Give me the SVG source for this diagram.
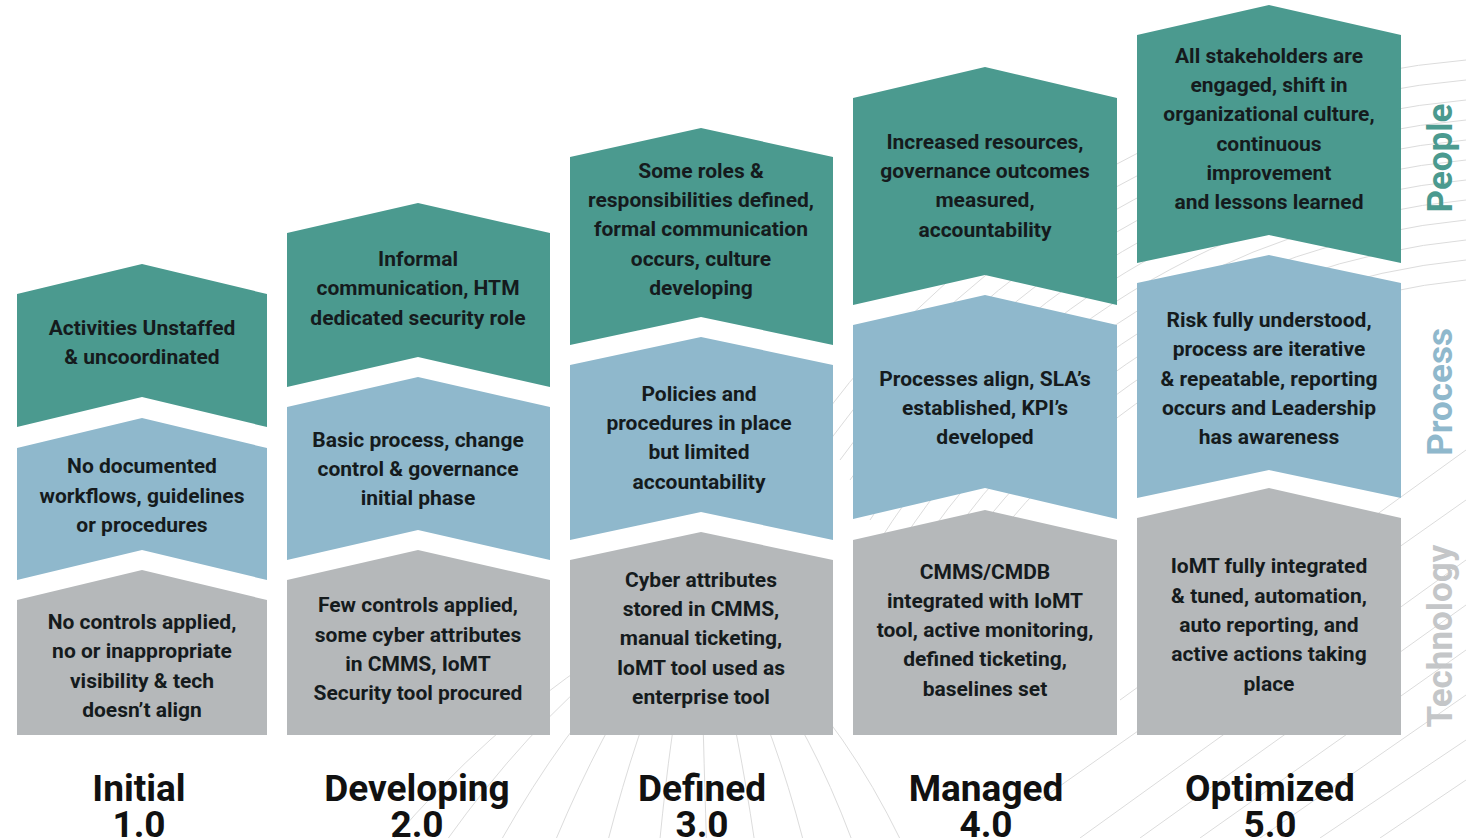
<svg xmlns="http://www.w3.org/2000/svg" width="1466" height="838" viewBox="0 0 1466 838">
  <style>
    .bg { fill: none; stroke: #dcdcdc; stroke-width: 1; }
    .people { fill: #4b9a8f; }
    .process { fill: #8fb8cc; }
    .tech { fill: #b5b8ba; }
    .lbl { font-family: Roboto, "Liberation Sans", sans-serif; font-weight: 700; font-size: 21px; fill: #151b1d; text-anchor: middle; }
    .title { font-family: Roboto, "Liberation Sans", sans-serif; font-weight: 700; font-size: 37px; fill: #111; text-anchor: middle; }
    .side { font-family: Roboto, "Liberation Sans", sans-serif; font-weight: 700; font-size: 35px; text-anchor: middle; }
  </style>
  <rect width="1466" height="838" fill="#ffffff"/>

  <!-- faint contour decoration -->
  <g id="decor" class="bg">
    <!-- meridian fan, lower centre (origin hidden behind the Defined column) -->
    <path d="M700 600 Q480 700 300 960"/>
    <path d="M700 600 Q520 700 370 960"/>
    <path d="M700 600 Q560 700 440 960"/>
    <path d="M700 600 Q600 700 510 960"/>
    <path d="M700 600 Q635 700 580 960"/>
    <path d="M700 600 Q668 700 650 960"/>
    <path d="M700 600 Q702 700 710 960"/>
    <path d="M700 600 Q740 700 770 960"/>
    <path d="M700 600 Q780 700 830 960"/>
    <path d="M700 600 Q820 700 890 960"/>
    <path d="M700 600 Q860 700 950 960"/>
    <!-- arcs, upper right -->
    <path d="M820 420 A900 900 0 0 1 1466 60"/>
    <path d="M830 440 A880 880 0 0 1 1466 80"/>
    <path d="M840 460 A860 860 0 0 1 1466 100"/>
    <path d="M850 480 A840 840 0 0 1 1466 120"/>
    <path d="M860 500 A820 820 0 0 1 1466 140"/>
    <path d="M870 520 A800 800 0 0 1 1466 160"/>
    <path d="M880 540 A780 780 0 0 1 1466 180"/>
    <path d="M890 560 A760 760 0 0 1 1466 200"/>
    <path d="M900 580 A740 740 0 0 1 1466 220"/>
    <path d="M910 600 A720 720 0 0 1 1466 240"/>
    <path d="M920 620 A700 700 0 0 1 1466 260"/>
    <path d="M930 640 A680 680 0 0 1 1466 280"/>
    <!-- diagonal strokes, lower right -->
    <path d="M1080 838 L1466 560"/>
    <path d="M1140 838 L1466 605"/>
    <path d="M1200 838 L1466 650"/>
    <path d="M1260 838 L1466 695"/>
    <path d="M1320 838 L1466 740"/>
    <path d="M1040 800 L1466 500"/>
    <path d="M1120 700 L1466 450"/>
    <path d="M1380 838 L1466 780"/>
  </g>

  <!-- Initial 1.0 -->
  <g id="col1">
    <path class="people" d="M17 294 L142 264 L267 294 L267 427 L142 397 L17 427 Z"/>
    <path class="process" d="M17 448 L142 418 L267 448 L267 580 L142 550 L17 580 Z"/>
    <path class="tech" d="M17 600 L142 570 L267 600 L267 735 L17 735 Z"/>
    <text class="lbl" x="142" y="335">Activities Unstaffed</text>
    <text class="lbl" x="142" y="364">&amp; uncoordinated</text>
    <text class="lbl" x="142" y="473">No documented</text>
    <text class="lbl" x="142" y="503">workflows, guidelines</text>
    <text class="lbl" x="142" y="532">or procedures</text>
    <text class="lbl" x="142" y="629">No controls applied,</text>
    <text class="lbl" x="142" y="658">no or inappropriate</text>
    <text class="lbl" x="142" y="688">visibility &amp; tech</text>
    <text class="lbl" x="142" y="717">doesn’t align</text>
    <text class="title" x="139" y="801">Initial</text>
    <text class="title" x="139" y="837">1.0</text>
  </g>

  <!-- Developing 2.0 -->
  <g id="col2">
    <path class="people" d="M287 233 L418 203 L550 233 L550 387 L418 357 L287 387 Z"/>
    <path class="process" d="M287 407 L418 377 L550 407 L550 560 L418 530 L287 560 Z"/>
    <path class="tech" d="M287 580 L418 550 L550 580 L550 735 L287 735 Z"/>
    <text class="lbl" x="418" y="266">Informal</text>
    <text class="lbl" x="418" y="295">communication, HTM</text>
    <text class="lbl" x="418" y="325">dedicated security role</text>
    <text class="lbl" x="418" y="447">Basic process, change</text>
    <text class="lbl" x="418" y="476">control &amp; governance</text>
    <text class="lbl" x="418" y="505">initial phase</text>
    <text class="lbl" x="418" y="612">Few controls applied,</text>
    <text class="lbl" x="418" y="642">some cyber attributes</text>
    <text class="lbl" x="418" y="671">in CMMS, IoMT</text>
    <text class="lbl" x="418" y="700">Security tool procured</text>
    <text class="title" x="417" y="801">Developing</text>
    <text class="title" x="417" y="837">2.0</text>
  </g>

  <!-- Defined 3.0 -->
  <g id="col3">
    <path class="people" d="M570 157 L701 128 L833 157 L833 345 L701 317 L570 345 Z"/>
    <path class="process" d="M570 365 L701 337 L833 365 L833 540 L701 512 L570 540 Z"/>
    <path class="tech" d="M570 560 L701 532 L833 560 L833 735 L570 735 Z"/>
    <text class="lbl" x="701" y="178">Some roles &amp;</text>
    <text class="lbl" x="701" y="207">responsibilities defined,</text>
    <text class="lbl" x="701" y="236">formal communication</text>
    <text class="lbl" x="701" y="266">occurs, culture</text>
    <text class="lbl" x="701" y="295">developing</text>
    <text class="lbl" x="699" y="401">Policies and</text>
    <text class="lbl" x="699" y="430">procedures in place</text>
    <text class="lbl" x="699" y="459">but limited</text>
    <text class="lbl" x="699" y="489">accountability</text>
    <text class="lbl" x="701" y="587">Cyber attributes</text>
    <text class="lbl" x="701" y="616">stored in CMMS,</text>
    <text class="lbl" x="701" y="645">manual ticketing,</text>
    <text class="lbl" x="701" y="675">IoMT tool used as</text>
    <text class="lbl" x="701" y="704">enterprise tool</text>
    <text class="title" x="702" y="801">Defined</text>
    <text class="title" x="702" y="837">3.0</text>
  </g>

  <!-- Managed 4.0 -->
  <g id="col4">
    <path class="people" d="M853 98 L985 67 L1117 98 L1117 305 L985 275 L853 305 Z"/>
    <path class="process" d="M853 325 L985 295 L1117 325 L1117 519 L985 488 L853 519 Z"/>
    <path class="tech" d="M853 540 L985 510 L1117 540 L1117 735 L853 735 Z"/>
    <text class="lbl" x="985" y="149">Increased resources,</text>
    <text class="lbl" x="985" y="178">governance outcomes</text>
    <text class="lbl" x="985" y="207">measured,</text>
    <text class="lbl" x="985" y="237">accountability</text>
    <text class="lbl" x="985" y="386">Processes align, SLA’s</text>
    <text class="lbl" x="985" y="415">established, KPI’s</text>
    <text class="lbl" x="985" y="444">developed</text>
    <text class="lbl" x="985" y="579">CMMS/CMDB</text>
    <text class="lbl" x="985" y="608">integrated with IoMT</text>
    <text class="lbl" x="985" y="637">tool,  active monitoring,</text>
    <text class="lbl" x="985" y="666">defined ticketing,</text>
    <text class="lbl" x="985" y="696">baselines set</text>
    <text class="title" x="986" y="801">Managed</text>
    <text class="title" x="986" y="837">4.0</text>
  </g>

  <!-- Optimized 5.0 -->
  <g id="col5">
    <path class="people" d="M1137 35 L1269 5 L1401 35 L1401 263 L1269 235 L1137 263 Z"/>
    <path class="process" d="M1137 283 L1269 255 L1401 283 L1401 498 L1269 470 L1137 498 Z"/>
    <path class="tech" d="M1137 518 L1269 488 L1401 518 L1401 735 L1137 735 Z"/>
    <text class="lbl" x="1269" y="63">All stakeholders are</text>
    <text class="lbl" x="1269" y="92">engaged, shift in</text>
    <text class="lbl" x="1269" y="121">organizational culture,</text>
    <text class="lbl" x="1269" y="151">continuous</text>
    <text class="lbl" x="1269" y="180">improvement</text>
    <text class="lbl" x="1269" y="209">and lessons learned</text>
    <text class="lbl" x="1269" y="327">Risk fully understood,</text>
    <text class="lbl" x="1269" y="356">process are iterative</text>
    <text class="lbl" x="1269" y="386">&amp; repeatable, reporting</text>
    <text class="lbl" x="1269" y="415">occurs and Leadership</text>
    <text class="lbl" x="1269" y="444">has  awareness</text>
    <text class="lbl" x="1269" y="573">IoMT fully integrated</text>
    <text class="lbl" x="1269" y="603">&amp; tuned, automation,</text>
    <text class="lbl" x="1269" y="632">auto reporting, and</text>
    <text class="lbl" x="1269" y="661">active actions taking</text>
    <text class="lbl" x="1269" y="691">place</text>
    <text class="title" x="1270" y="801">Optimized</text>
    <text class="title" x="1270" y="837">5.0</text>
  </g>

  <!-- row captions -->
  <g id="row-labels">
    <text class="side" fill="#4b9a8f" transform="translate(1452 158) rotate(-90)">People</text>
    <text class="side" fill="#8fb8cc" transform="translate(1452 392) rotate(-90)">Process</text>
    <text class="side" fill="#c4c6c8" transform="translate(1452 636) rotate(-90)">Technology</text>
  </g>
</svg>
